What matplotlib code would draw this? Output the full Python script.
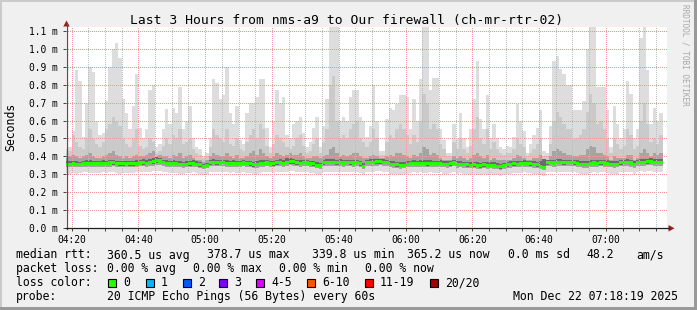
import numpy as np
import matplotlib
matplotlib.use("Agg")
import matplotlib.pyplot as plt
from matplotlib.patches import Rectangle, Polygon
from matplotlib.lines import Line2D

# ---------------- data (microseconds, one value per minute step, starting 04:18) -------------
median_us = [357, 357, 358, 356, 357, 360, 360, 361, 359, 360,
             360, 361, 359, 363, 364, 360, 358, 358, 359, 358,
             358, 362, 363, 364, 362, 368, 372, 375, 374, 366,
             362, 360, 361, 359, 356, 355, 357, 358, 362, 357,
             352, 345, 350, 364, 366, 364, 363, 366, 362, 360,
             361, 359, 360, 363, 360, 358, 353, 355, 360, 362,
             363, 361, 358, 364, 366, 362, 368, 372, 370, 364,
             362, 366, 363, 360, 358, 350, 348, 364, 366, 365,
             366, 364, 366, 363, 365, 364, 363, 365, 358, 344,
             366, 368, 367, 369, 370, 368, 366, 356, 355, 353,
             348, 350, 357, 360, 361, 359, 362, 360, 358, 361,
             360, 359, 362, 357, 356, 358, 363, 356, 357, 355,
             352, 351, 353, 350, 347, 352, 350, 351, 348, 346,
             342, 348, 353, 356, 358, 357, 360, 361, 359, 358,
             355, 352, 344, 340, 364, 366, 363, 365, 366, 364,
             365, 366, 364, 362, 357, 355, 356, 360, 363, 362,
             364, 363, 362, 357, 355, 357, 364, 365, 366, 363,
             354, 366, 368, 367, 370, 372, 368, 366, 367]

hi1_us = [440, 450, 540, 880, 820, 510, 700, 900, 870, 600,
          520, 530, 710, 900, 1000, 1035, 950, 720, 640, 550,
          680, 860, 560, 500, 550, 770, 800, 450, 470, 550,
          665, 580, 670, 640, 790, 550, 600, 680, 500, 450,
          440, 400, 420, 500, 830, 810, 720, 740, 900, 640,
          580, 680, 490, 470, 640, 700, 700, 730, 830, 830,
          560, 450, 600, 770, 700, 730, 520, 500, 580, 600,
          620, 530, 450, 480, 560, 620, 450, 570, 720, 1130,
          1130, 1130, 600, 620, 600, 730, 770, 770, 620, 600,
          510, 570, 800, 600, 430, 430, 610, 670, 660, 690,
          740, 740, 730, 550, 720, 600, 830, 1130, 1130, 770,
          840, 840, 550, 490, 420, 420, 580, 500, 640, 500,
          450, 550, 720, 930, 610, 550, 740, 500, 580, 500,
          450, 440, 460, 450, 510, 690, 600, 540, 420, 470,
          520, 560, 660, 430, 420, 570, 930, 960, 890, 860,
          800, 800, 660, 660, 660, 710, 1000, 1130, 1130, 790,
          790, 790, 660, 450, 680, 580, 500, 550, 820, 750,
          500, 550, 1060, 1130, 880, 580, 670, 600, 640]

hi2_us = [420, 430, 520, 480, 450, 440, 500, 550, 500, 470,
          450, 480, 550, 580, 620, 600, 570, 500, 470, 450,
          500, 550, 460, 440, 450, 500, 480, 420, 430, 460,
          500, 470, 520, 500, 550, 470, 480, 500, 440, 420,
          410, 390, 400, 450, 550, 520, 500, 480, 550, 470,
          460, 500, 440, 430, 480, 520, 550, 500, 580, 550,
          460, 420, 470, 520, 500, 480, 450, 440, 460, 500,
          520, 460, 420, 430, 470, 500, 420, 480, 550, 800,
          850, 600, 500, 520, 500, 550, 580, 600, 500, 480,
          450, 480, 550, 500, 410, 410, 480, 520, 500, 550,
          580, 550, 520, 470, 520, 480, 600, 750, 700, 550,
          580, 550, 470, 440, 400, 400, 480, 440, 500, 440,
          420, 460, 550, 620, 500, 470, 550, 440, 480, 440,
          420, 410, 420, 420, 440, 500, 470, 450, 400, 420,
          440, 470, 500, 400, 400, 470, 600, 650, 620, 580,
          550, 550, 500, 500, 520, 550, 650, 750, 700, 580,
          600, 550, 500, 420, 500, 470, 440, 460, 550, 520,
          440, 460, 600, 700, 580, 480, 500, 470, 520]

hi3_us = [390, 400, 410, 400, 390, 400, 410, 420, 400, 390,
          390, 400, 410, 420, 430, 410, 400, 390, 400, 390,
          400, 410, 400, 400, 410, 420, 430, 400, 410, 400,
          400, 390, 410, 400, 420, 390, 400, 410, 390, 380,
          380, 370, 380, 400, 420, 410, 400, 400, 420, 400,
          390, 410, 390, 390, 400, 420, 430, 410, 440, 420,
          400, 390, 400, 420, 410, 400, 410, 420, 410, 410,
          420, 400, 390, 390, 400, 400, 390, 400, 410, 440,
          450, 420, 400, 410, 400, 410, 420, 420, 400, 390,
          390, 400, 410, 400, 390, 390, 400, 410, 400, 420,
          420, 410, 400, 390, 410, 400, 420, 450, 440, 410,
          420, 410, 390, 380, 380, 380, 400, 390, 400, 390,
          380, 390, 410, 420, 400, 390, 410, 380, 390, 380,
          380, 380, 380, 380, 390, 410, 400, 390, 380, 380,
          390, 390, 410, 370, 380, 400, 430, 440, 430, 420,
          410, 410, 400, 400, 410, 410, 440, 460, 450, 420,
          420, 410, 400, 380, 400, 390, 390, 390, 410, 410,
          380, 390, 420, 440, 420, 400, 420, 410, 420]

hi4_us = [372, 373, 375, 372, 370, 376, 378, 380, 376, 374,
          374, 378, 375, 380, 382, 376, 372, 373, 375, 372,
          374, 380, 382, 383, 380, 388, 392, 395, 390, 380,
          378, 375, 378, 376, 372, 370, 373, 374, 380, 372,
          366, 360, 365, 380, 384, 380, 378, 382, 380, 376,
          377, 374, 375, 380, 376, 374, 370, 372, 378, 380,
          381, 376, 374, 382, 384, 380, 390, 392, 388, 380,
          378, 382, 378, 375, 373, 366, 364, 380, 384, 386,
          388, 382, 383, 380, 382, 380, 378, 382, 374, 362,
          382, 385, 384, 386, 388, 384, 382, 372, 372, 370,
          366, 368, 374, 376, 378, 375, 380, 382, 378, 377,
          376, 375, 378, 372, 372, 374, 380, 372, 373, 371,
          368, 367, 370, 368, 364, 370, 368, 368, 366, 364,
          360, 365, 370, 372, 374, 373, 376, 378, 375, 374,
          372, 370, 375, 385, 380, 382, 380, 384, 384, 380,
          381, 382, 380, 378, 373, 372, 375, 378, 380, 380,
          381, 380, 378, 373, 372, 374, 381, 382, 383, 380,
          372, 382, 386, 386, 388, 392, 388, 384, 386]

lo4_us = [348, 347, 349, 346, 348, 350, 351, 351, 349, 350,
          350, 351, 349, 352, 353, 350, 348, 348, 349, 348,
          348, 352, 352, 353, 352, 357, 360, 362, 362, 356,
          352, 350, 351, 349, 346, 345, 347, 348, 352, 347,
          342, 335, 340, 354, 355, 354, 353, 355, 352, 350,
          351, 349, 350, 353, 350, 348, 343, 345, 350, 352,
          353, 351, 348, 354, 355, 352, 357, 360, 359, 354,
          352, 355, 353, 350, 348, 340, 338, 354, 355, 355,
          356, 354, 356, 353, 355, 354, 353, 355, 348, 334,
          356, 357, 357, 358, 359, 358, 356, 346, 345, 343,
          338, 340, 347, 350, 351, 349, 352, 350, 348, 351,
          350, 349, 352, 347, 346, 348, 353, 346, 347, 345,
          342, 341, 343, 340, 337, 342, 340, 341, 338, 336,
          332, 338, 343, 346, 348, 347, 350, 351, 349, 348,
          345, 342, 334, 330, 354, 356, 353, 355, 356, 354,
          355, 356, 354, 352, 347, 345, 346, 350, 353, 352,
          354, 353, 352, 347, 345, 347, 354, 355, 356, 353,
          344, 356, 358, 357, 360, 362, 358, 356, 357]

lo3_us = [340, 339, 341, 338, 340, 342, 343, 342, 341, 342,
          342, 343, 341, 343, 344, 342, 340, 340, 341, 340,
          340, 343, 344, 344, 343, 346, 348, 350, 349, 345,
          343, 341, 342, 340, 338, 337, 339, 340, 343, 339,
          335, 330, 333, 345, 346, 345, 344, 346, 343, 341,
          342, 340, 341, 344, 341, 339, 336, 337, 341, 343,
          344, 342, 340, 345, 346, 343, 347, 349, 348, 345,
          343, 345, 344, 341, 339, 333, 331, 345, 346, 345,
          346, 344, 346, 343, 345, 344, 343, 345, 340, 328,
          346, 347, 347, 348, 349, 347, 346, 338, 337, 335,
          331, 333, 338, 341, 342, 340, 343, 341, 339, 342,
          341, 340, 343, 338, 337, 339, 344, 337, 338, 336,
          334, 333, 335, 332, 330, 334, 332, 333, 330, 329,
          325, 330, 335, 337, 339, 338, 341, 342, 340, 339,
          337, 334, 327, 324, 344, 346, 343, 345, 346, 344,
          345, 346, 344, 342, 338, 336, 337, 341, 343, 342,
          344, 343, 342, 338, 336, 338, 344, 345, 346, 343,
          336, 346, 348, 347, 349, 351, 348, 346, 347]

lo1_us = [306, 304, 308, 303, 306, 310, 310, 308, 306, 308,
          308, 310, 306, 310, 312, 308, 304, 306, 308, 306,
          306, 310, 312, 311, 310, 314, 318, 320, 318, 313,
          310, 308, 308, 306, 304, 303, 306, 306, 310, 306,
          302, 298, 300, 313, 314, 313, 312, 314, 310, 308,
          310, 306, 308, 312, 308, 306, 302, 303, 308, 310,
          312, 310, 306, 313, 314, 310, 315, 318, 316, 312,
          310, 313, 312, 308, 306, 300, 298, 313, 314, 312,
          314, 312, 314, 310, 313, 312, 310, 313, 306, 296,
          314, 315, 314, 316, 318, 314, 313, 304, 303, 302,
          298, 300, 304, 308, 310, 306, 310, 308, 306, 310,
          308, 306, 310, 304, 304, 306, 311, 304, 305, 302,
          300, 298, 300, 298, 296, 300, 298, 299, 296, 294,
          292, 296, 301, 304, 306, 305, 308, 310, 306, 306,
          303, 300, 294, 291, 310, 313, 310, 312, 313, 310,
          312, 313, 310, 308, 304, 302, 303, 308, 310, 308,
          310, 310, 308, 304, 302, 304, 310, 312, 313, 310,
          302, 313, 316, 314, 316, 318, 314, 312, 314]

x_tick_labels = ["04:20", "04:40", "05:00", "05:20", "05:40", "06:00", "06:20", "06:40", "07:00"]
y_tick_values = [0.0, 0.1, 0.2, 0.3, 0.4, 0.5, 0.6, 0.7, 0.8, 0.9, 1.0, 1.1]

title = "Last 3 Hours from nms-a9 to Our firewall (ch-mr-rtr-02)"
ylabel = "Seconds"
rtt_label = "median rtt:"
rtt_stats = ["360.5 us avg", "378.7 us max", "339.8 us min", "365.2 us now",
             "0.0 ms sd", "48.2", "am/s"]
loss_label = "packet loss:"
loss_stats = ["0.00 % avg", "0.00 % max", "0.00 % min", "0.00 % now"]
lc_label = "loss color:"
lc_names = ["0", "1", "2", "3", "4-5", "6-10", "11-19", "20/20"]
lc_colors = ["#26ff00", "#00b8ff", "#0059ff", "#7e00ff", "#dd00ff", "#ff5500", "#ff0000", "#a00000"]
probe_label = "probe:"
probe_text = "20 ICMP Echo Pings (56 Bytes) every 60s"
stamp = "Mon Dec 22 07:18:19 2025"
watermark = "RRDTOOL / TOBI OETIKER"

# ---------------- layout ----------------
plt.rcParams['font.family'] = ['DejaVu Sans Mono']
plt.rcParams['lines.scale_dashes'] = False
W, H = 697, 310
fig = plt.figure(figsize=(W / 100, H / 100), dpi=100)
fig.patch.set_facecolor('#f0f0f0')


def fx(x):
    return x / W


def fy(y):
    return 1 - y / H


# 3D frame
fig.add_artist(Rectangle((0, fy(2)), 1, 2 / H, transform=fig.transFigure, color='#cbcbcb', lw=0))
fig.add_artist(Rectangle((0, 0), 2 / W, 1, transform=fig.transFigure, color='#cbcbcb', lw=0))
fig.add_artist(Rectangle((fx(694), 0), 3 / W, 1, transform=fig.transFigure, color='#999999', lw=0))
fig.add_artist(Rectangle((0, 0), 1, 3 / H, transform=fig.transFigure, color='#999999', lw=0))

X0, X1, Y0, Y1 = 66, 667, 228, 26.7
PX_PER_MS = 179.1
ax = fig.add_axes([fx(X0), fy(Y0), (X1 - X0) / W, (Y0 - Y1) / H])
ax.set_facecolor('white')
ax.set_xlim(0, 180)
ax.set_ylim(0, (Y0 - Y1) / PX_PER_MS)
for s in ax.spines.values():
    s.set_visible(False)

n = len(median_us)
edges = np.arange(n + 1) - 19 / 60.0


def ext(a):
    a = np.asarray(a, float) / 1000.0
    return np.append(a, a[-1])


layers = [(lo1_us, hi1_us, '#dddddd'),
          (lo3_us, hi2_us, '#cacaca'),
          (lo3_us, hi3_us, '#a4a4a4'),
          (lo4_us, hi4_us, '#6b6b6b')]
for lo, hi, c in layers:
    ax.fill_between(edges, ext(lo), ext(hi), step='post', color=c, linewidth=0, zorder=1)

med = ext(median_us)
ax.fill_between(edges, med - 0.0085, med + 0.0085, step='post', color=lc_colors[0],
                linewidth=0, zorder=3)

# ticks / grid
first = 101 / 60.0  # 04:20 relative to 04:18:19
major = [first + 20 * k for k in range(len(x_tick_labels))]
minor = [first + 5 * k for k in range(36) if first + 5 * k < 180]
ax.set_xticks(major)
ax.set_xticklabels(x_tick_labels)
ax.set_xticks(minor, minor=True)
ax.set_yticks(y_tick_values)
ax.set_yticklabels([f"{v:.1f} m" for v in y_tick_values])
ax.tick_params(axis='both', which='both', length=2, width=0.7, color='#404040',
               direction='out', labelsize=6.9, labelcolor='black')
ax.tick_params(axis='y', pad=4.0)
ax.tick_params(axis='x', pad=3.0)
ax.set_axisbelow(False)
PXPT = 0.72
dots = (PXPT / 2, (PXPT, PXPT))
ax.grid(which='major', axis='x', color='#ee9a9a', linestyle=dots, linewidth=PXPT)
ax.grid(which='minor', axis='x', color='#bdbdbd', linestyle=dots, linewidth=PXPT)
for v in y_tick_values[1:]:
    ax.axhline(v, color='#ee9a9a', linestyle=dots, linewidth=PXPT, zorder=2.5)

# axis lines and arrows (pixel coordinates)
fig.add_artist(Line2D([fx(66.5), fx(66.5)], [fy(228.5), fy(24)], transform=fig.transFigure,
                      color='#505050', lw=0.9))
fig.add_artist(Line2D([fx(66), fx(669)], [fy(228.3), fy(228.3)], transform=fig.transFigure,
                      color='#202020', lw=0.9))
fig.add_artist(Polygon([[fx(66.5), fy(20.5)], [fx(63.3), fy(26.5)], [fx(69.7), fy(26.5)]],
                       closed=True, transform=fig.transFigure, color='#a11c1c', lw=0))
fig.add_artist(Polygon([[fx(674.5), fy(228.3)], [fx(668.5), fy(225.0)], [fx(668.5), fy(231.6)]],
                       closed=True, transform=fig.transFigure, color='#a11c1c', lw=0))

# texts
fig.text(fx(347), fy(24), title, ha='center', va='baseline', fontsize=9.35)
fig.text(fx(10.5), fy(127), ylabel, ha='center', va='center', rotation=90, fontsize=8.3)
fig.text(fx(685), fy(4), watermark, ha='center', va='top', rotation=-90, fontsize=5.6,
         color='#a8a8a8')

LEG = 8.3
lines_y = [258.5, 272.3, 286.1, 299.9]
fig.text(fx(16), fy(lines_y[0]), rtt_label, fontsize=LEG, va='baseline')
for x, s in zip([107.3, 207.3, 311.7, 407.3, 507.7, 586, 636], rtt_stats):
    fig.text(fx(x), fy(lines_y[0]), s, fontsize=LEG, va='baseline')
fig.text(fx(16), fy(lines_y[1]), loss_label, fontsize=LEG, va='baseline')
for x, s in zip([107.3, 193.3, 279.3, 365], loss_stats):
    fig.text(fx(x), fy(lines_y[1]), s, fontsize=LEG, va='baseline')
fig.text(fx(16), fy(lines_y[2]), lc_label, fontsize=LEG, va='baseline')
for x, s, c in zip([108, 145.7, 182.7, 219.3, 256, 307.3, 365, 430], lc_names, lc_colors):
    fig.add_artist(Rectangle((fx(x), fy(286.5)), 8 / W, 8 / H, transform=fig.transFigure,
                             facecolor=c, edgecolor='black', lw=0.8))
    fig.text(fx(x + 15), fy(lines_y[2]), s, fontsize=LEG, va='baseline')
fig.text(fx(16), fy(lines_y[3]), probe_label, fontsize=LEG, va='baseline')
fig.text(fx(107.3), fy(lines_y[3]), probe_text, fontsize=LEG, va='baseline')
fig.text(fx(512.7), fy(lines_y[3]), stamp, fontsize=LEG, va='baseline')

fig.savefig('out.png', dpi=100)
